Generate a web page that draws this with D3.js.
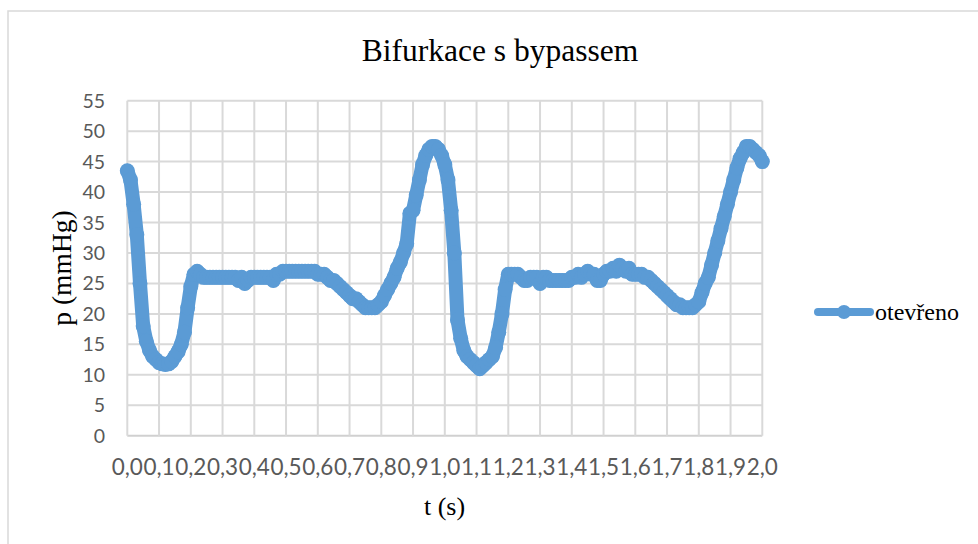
<!DOCTYPE html>
<html>
<head>
<meta charset="utf-8">
<script src="https://cdn.jsdelivr.net/npm/d3@7"></script>
<style>
  html, body { margin: 0; padding: 0; background: #ffffff; }
  svg { display: block; }
</style>
</head>
<body>
<svg id="chart" width="978" height="544"></svg>
<script>
// ---- data ----
const chartTitle = "Bifurkace s bypassem";
const xTitle = "t (s)";
const yTitle = "p (mmHg)";
const seriesName = "otevřeno";

const xTicks = [0,0.1,0.2,0.3,0.4,0.5,0.6,0.7,0.8,0.9,1.0,1.1,1.2,1.3,1.4,1.5,1.6,1.7,1.8,1.9,2.0];
const xTickLabels = ["0,0","0,1","0,2","0,3","0,4","0,5","0,6","0,7","0,8","0,9","1,0","1,1","1,2","1,3","1,4","1,5","1,6","1,7","1,8","1,9","2,0"];
const yTicks = [0,5,10,15,20,25,30,35,40,45,50,55];

const tValues = [
  0.00,0.01,0.02,0.03,0.04,0.05,0.06,0.07,0.08,0.09,
  0.10,0.11,0.12,0.13,0.14,0.15,0.16,0.17,0.18,0.19,
  0.20,0.21,0.22,0.23,0.24,0.25,0.26,0.27,0.28,0.29,
  0.30,0.31,0.32,0.33,0.34,0.35,0.36,0.37,0.38,0.39,
  0.40,0.41,0.42,0.43,0.44,0.45,0.46,0.47,0.48,0.49,
  0.50,0.51,0.52,0.53,0.54,0.55,0.56,0.57,0.58,0.59,
  0.60,0.61,0.62,0.63,0.64,0.65,0.66,0.67,0.68,0.69,
  0.70,0.71,0.72,0.73,0.74,0.75,0.76,0.77,0.78,0.79,
  0.80,0.81,0.82,0.83,0.84,0.85,0.86,0.87,0.88,0.89,
  0.90,0.91,0.92,0.93,0.94,0.95,0.96,0.97,0.98,0.99,
  1.00,1.01,1.02,1.03,1.04,1.05,1.06,1.07,1.08,1.09,
  1.10,1.11,1.12,1.13,1.14,1.15,1.16,1.17,1.18,1.19,
  1.20,1.21,1.22,1.23,1.24,1.25,1.26,1.27,1.28,1.29,
  1.30,1.31,1.32,1.33,1.34,1.35,1.36,1.37,1.38,1.39,
  1.40,1.41,1.42,1.43,1.44,1.45,1.46,1.47,1.48,1.49,
  1.50,1.51,1.52,1.53,1.54,1.55,1.56,1.57,1.58,1.59,
  1.60,1.61,1.62,1.63,1.64,1.65,1.66,1.67,1.68,1.69,
  1.70,1.71,1.72,1.73,1.74,1.75,1.76,1.77,1.78,1.79,
  1.80,1.81,1.82,1.83,1.84,1.85,1.86,1.87,1.88,1.89,
  1.90,1.91,1.92,1.93,1.94,1.95,1.96,1.97,1.98,1.99,
  2.00
];

const pValues = [
  43.5,42,38,33,25,18,15.5,14,13,12.5,
  12,11.8,11.7,11.8,12.2,13,13.8,15,17,21,
  24.5,26.5,27,26.5,26,26,26,26,26,26,
  26,26,26,26,26,25.5,26,25,25.5,26,
  26,26,26,26,26,26,25.5,26.5,26.5,27,
  27,27,27,27,27,27,27,27,27,27,
  26.5,26.5,26.5,26,25.5,25.5,25,24.5,24,23.5,
  23,22.5,22.5,22,21.5,21,21,21,21,21.5,
  22,23,24,25,26,27.5,28.5,30,31.5,36.5,
  37,39.5,42,44.5,46,47,47.5,47.5,47,46,
  44.5,42,37,30,19,16,14,13,12.5,12,
  11.5,11,11.5,12,12.5,13,14.5,17,20,24,
  26.5,26.5,26.5,26.5,26,25.5,25.5,26,26,26,
  25,26,26,25.5,25.5,25.5,25.5,25.5,25.5,25.5,
  26,26,26.5,26,26.5,27,26.5,26.5,25.5,25.5,
  26.5,27,27,27.5,27,28,27.5,27,27.5,26.5,
  26.5,26.5,26.5,26,26,25.5,25,24.5,24,23.5,
  23,22.5,22,21.5,21.5,21,21,21,21,21.5,
  22,23.5,25,26,28,30,32,34,36,38,
  40,42,44,45.5,46.5,47.5,47.5,47,46.5,46,
  45
];

// ---- layout ----
const svg = d3.select("#chart");
const plotLeft = 127.3, plotRight = 762.3, plotTop = 100.7, plotBottom = 435.7;
const blue = "#5b9bd5";
const gridColor = "#d9d9d9";
const serif = "'Liberation Serif', 'Times New Roman', Times, serif";
const sans = "Lato, 'Open Sans', sans-serif";

const x = d3.scaleLinear().domain([0, 2.0]).range([plotLeft, plotRight]);
const y = d3.scaleLinear().domain([0, 55]).range([plotBottom, plotTop]);

// chart border (only top and left visible in reference)
svg.append("rect")
  .attr("x", 8).attr("y", 11)
  .attr("width", 1000).attr("height", 600)
  .attr("fill", "none").attr("stroke", gridColor).attr("stroke-width", 1.5);

// horizontal gridlines
svg.append("g").selectAll("line").data(yTicks).join("line")
  .attr("x1", plotLeft).attr("x2", plotRight)
  .attr("y1", d => y(d)).attr("y2", d => y(d))
  .attr("stroke", d => d === 0 ? "#d0d0d0" : gridColor)
  .attr("stroke-width", 2);

// vertical gridlines
svg.append("g").selectAll("line").data(xTicks).join("line")
  .attr("x1", d => x(d)).attr("x2", d => x(d))
  .attr("y1", plotTop).attr("y2", plotBottom)
  .attr("stroke", gridColor)
  .attr("stroke-width", 2);

// y tick labels
svg.append("g").selectAll("text").data(yTicks).join("text")
  .attr("x", 105).attr("y", d => y(d))
  .attr("dy", "0.36em")
  .attr("text-anchor", "end")
  .attr("font-family", sans)
  .attr("font-size", 19.5)
  .attr("fill", "#595959")
  .text(d => d);

// x tick labels
svg.append("g").selectAll("text").data(xTicks).join("text")
  .attr("x", d => x(d)).attr("y", 467)
  .attr("dy", "0.36em")
  .attr("text-anchor", "middle")
  .attr("font-family", sans)
  .attr("font-size", 22.5)
  .attr("fill", "#595959")
  .text((d, i) => xTickLabels[i]);

// titles
svg.append("text")
  .attr("x", 500).attr("y", 61)
  .attr("text-anchor", "middle")
  .attr("font-family", serif)
  .attr("font-size", 31.5)
  .attr("fill", "#000")
  .text(chartTitle);

svg.append("text")
  .attr("x", 444.5).attr("y", 515)
  .attr("text-anchor", "middle")
  .attr("font-family", serif)
  .attr("font-size", 26)
  .attr("fill", "#000")
  .text(xTitle);

svg.append("text")
  .attr("transform", "translate(71,268) rotate(-90)")
  .attr("text-anchor", "middle")
  .attr("font-family", serif)
  .attr("font-size", 27.5)
  .attr("fill", "#000")
  .text(yTitle);

// series
const data = tValues.map((t, i) => ({ t, p: pValues[i] }));
const line = d3.line().x(d => x(d.t)).y(d => y(d.p));

svg.append("path")
  .datum(data)
  .attr("d", line)
  .attr("fill", "none")
  .attr("stroke", blue)
  .attr("stroke-width", 14)
  .attr("stroke-linejoin", "round")
  .attr("stroke-linecap", "round");

svg.append("g").selectAll("circle").data(data).join("circle")
  .attr("cx", d => x(d.t)).attr("cy", d => y(d.p))
  .attr("r", 7.5)
  .attr("fill", blue);

// legend
const lg = svg.append("g");
lg.append("line")
  .attr("x1", 818).attr("x2", 870).attr("y1", 312).attr("y2", 312)
  .attr("stroke", blue).attr("stroke-width", 8).attr("stroke-linecap", "round");
lg.append("circle").attr("cx", 844).attr("cy", 312).attr("r", 7).attr("fill", blue);
lg.append("text")
  .attr("x", 875).attr("y", 320)
  .attr("font-family", serif)
  .attr("font-size", 24)
  .attr("fill", "#000")
  .text(seriesName);
</script>
</body>
</html>
